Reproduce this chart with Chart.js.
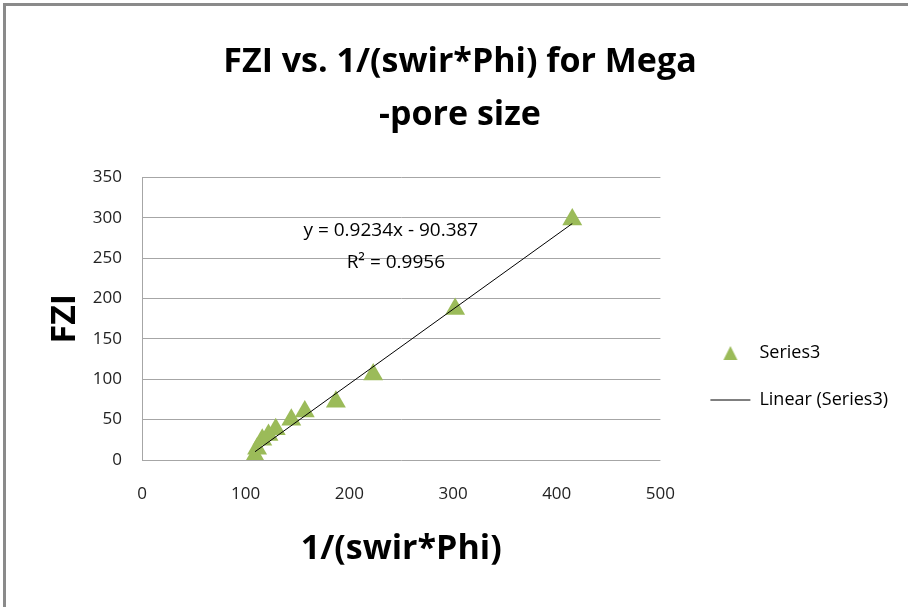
<!DOCTYPE html>
<html>
<head>
<meta charset="utf-8">
<script src="https://cdn.jsdelivr.net/npm/chart.js@4/dist/chart.umd.min.js"></script>
<style>
  html, body { margin: 0; padding: 0; background: #fff; }
  #wrap { position: absolute; left: 0; top: 0; width: 908px; height: 607px; }
  #frame { position: absolute; left: 3px; top: 3px; width: 905px; height: 604px;
           border-top: 3px solid #8a8a8a; border-left: 3px solid #8a8a8a; pointer-events: none; }
</style>
</head>
<body>
<div id="wrap"><canvas id="chart" width="908" height="607"></canvas></div>
<div id="frame"></div>
<script>
// data
const xValues = [109, 111, 116, 122, 129, 144, 157, 187, 223, 302, 415];
const fziValues = [5, 14, 25, 31, 38, 50, 60, 72, 106, 187, 298];
const xTicks = [0, 100, 200, 300, 400, 500];
const yTicks = [0, 50, 100, 150, 200, 250, 300, 350];
const slope = 0.9234;
const intercept = -90.387;
const eqText = ['y = 0.9234x - 90.387', 'R\u00b2 = 0.9956'];

const points = xValues.map((x, i) => ({ x: x, y: fziValues[i] }));
const xMin = Math.min(...xValues), xMax = Math.max(...xValues);
const trend = [xMin, xMax].map(x => ({ x: x, y: slope * x + intercept }));

const FONT = "'Open Sans', sans-serif";
const gridColor = '#a6a6a6';
const green = '#9bbb59';
const legendGap = 21; // extra room between plot and legend

// small triangle icon for the legend
const legendTri = document.createElement('canvas');
legendTri.width = 16; legendTri.height = 16;
(function () {
    const c = legendTri.getContext('2d');
    c.fillStyle = green;
    c.beginPath();
    c.moveTo(8, 1); c.lineTo(15, 15); c.lineTo(1, 15);
    c.closePath(); c.fill();
})();

// widen the legend box on its left side only
const legendGapPlugin = {
    id: 'legendGap',
    beforeLayout(chart) {
        const lg = chart.legend;
        if (!lg || lg._gapped) return;
        const fit = lg.fit, draw = lg.draw;
        lg.fit = function () { fit.call(this); this.width += legendGap; };
        lg.draw = function () {
            const ctx = this.ctx;
            ctx.save(); ctx.translate(legendGap, 0);
            draw.call(this);
            ctx.restore();
        };
        lg._gapped = true;
    }
};

// equation label placed in data coordinates
const eqPlugin = {
    id: 'eqLabel',
    afterDatasetsDraw(chart) {
        const { ctx, scales } = chart;
        const cx = scales.x.getPixelForValue(240);
        const y1 = scales.y.getPixelForValue(284);
        ctx.save();
        ctx.fillStyle = '#000';
        ctx.font = "19px " + FONT;
        ctx.textAlign = 'center';
        ctx.textBaseline = 'middle';
        ctx.fillText(eqText[0], cx, y1);
        ctx.fillText(eqText[1], cx + 5, y1 + 32);
        ctx.restore();
    }
};

new Chart(document.getElementById('chart'), {
    type: 'scatter',
    data: {
        datasets: [{
            label: 'Series3',
            data: points,
            pointStyle: 'triangle',
            pointRadius: 11.5,
            pointHoverRadius: 11.5,
            backgroundColor: green,
            borderColor: green,
            borderWidth: 0,
            order: 1
        }, {
            label: 'Linear (Series3)',
            type: 'line',
            data: trend,
            borderColor: '#000',
            backgroundColor: '#000',
            borderWidth: 1,
            pointRadius: 0,
            pointStyle: 'line',
            order: 0
        }]
    },
    options: {
        responsive: false,
        animation: false,
        layout: { padding: { left: 22, right: 10, top: 0, bottom: 0 } },
        scales: {
            x: {
                type: 'linear', min: 0, max: 500,
                afterBuildTicks: s => { s.ticks = xTicks.map(v => ({ value: v })); },
                afterFit: s => { s.height = 147; },
                grid: { display: false, drawTicks: false },
                border: { display: false },
                ticks: { color: '#222', font: { family: FONT, size: 17 }, padding: 24 },
                title: { display: true, text: '1/(swir*Phi)', color: '#000',
                         font: { family: FONT, size: 34, weight: 'bold' }, padding: { top: 0, bottom: 37 } }
            },
            y: {
                min: 0, max: 350,
                afterBuildTicks: s => { s.ticks = yTicks.map(v => ({ value: v })); },
                afterFit: s => { s.width = 120; },
                grid: { color: gridColor, drawTicks: false },
                border: { display: true, color: gridColor },
                ticks: { color: '#222', font: { family: FONT, size: 17 }, padding: 20 },
                title: { display: true, text: 'FZI', color: '#000',
                         font: { family: FONT, size: 34, weight: 'bold' }, padding: { top: 23, bottom: 0 } }
            }
        },
        plugins: {
            title: {
                display: true,
                text: ['FZI vs. 1/(swir*Phi) for Mega', '-pore size'],
                color: '#000',
                font: { family: FONT, size: 34, weight: 'bold', lineHeight: 1.55 },
                padding: { top: 36, bottom: 36 }
            },
            legend: {
                position: 'right',
                align: 'center',
                title: { display: true, text: ' ', font: { size: 10 }, padding: { top: 128, bottom: 6 } },
                labels: {
                    usePointStyle: true,
                    pointStyleWidth: 40,
                    boxHeight: 16,
                    padding: 29,
                    color: '#000',
                    font: { family: FONT, size: 18 },
                    sort: (a, b) => a.datasetIndex - b.datasetIndex,
                    generateLabels: chart => {
                        const items = Chart.defaults.plugins.legend.labels.generateLabels(chart);
                        items.forEach(it => { if (it.datasetIndex === 0) it.pointStyle = legendTri; });
                        return items;
                    }
                }
            },
            tooltip: { enabled: false }
        }
    },
    plugins: [legendGapPlugin, eqPlugin]
});
</script>
</body>
</html>
